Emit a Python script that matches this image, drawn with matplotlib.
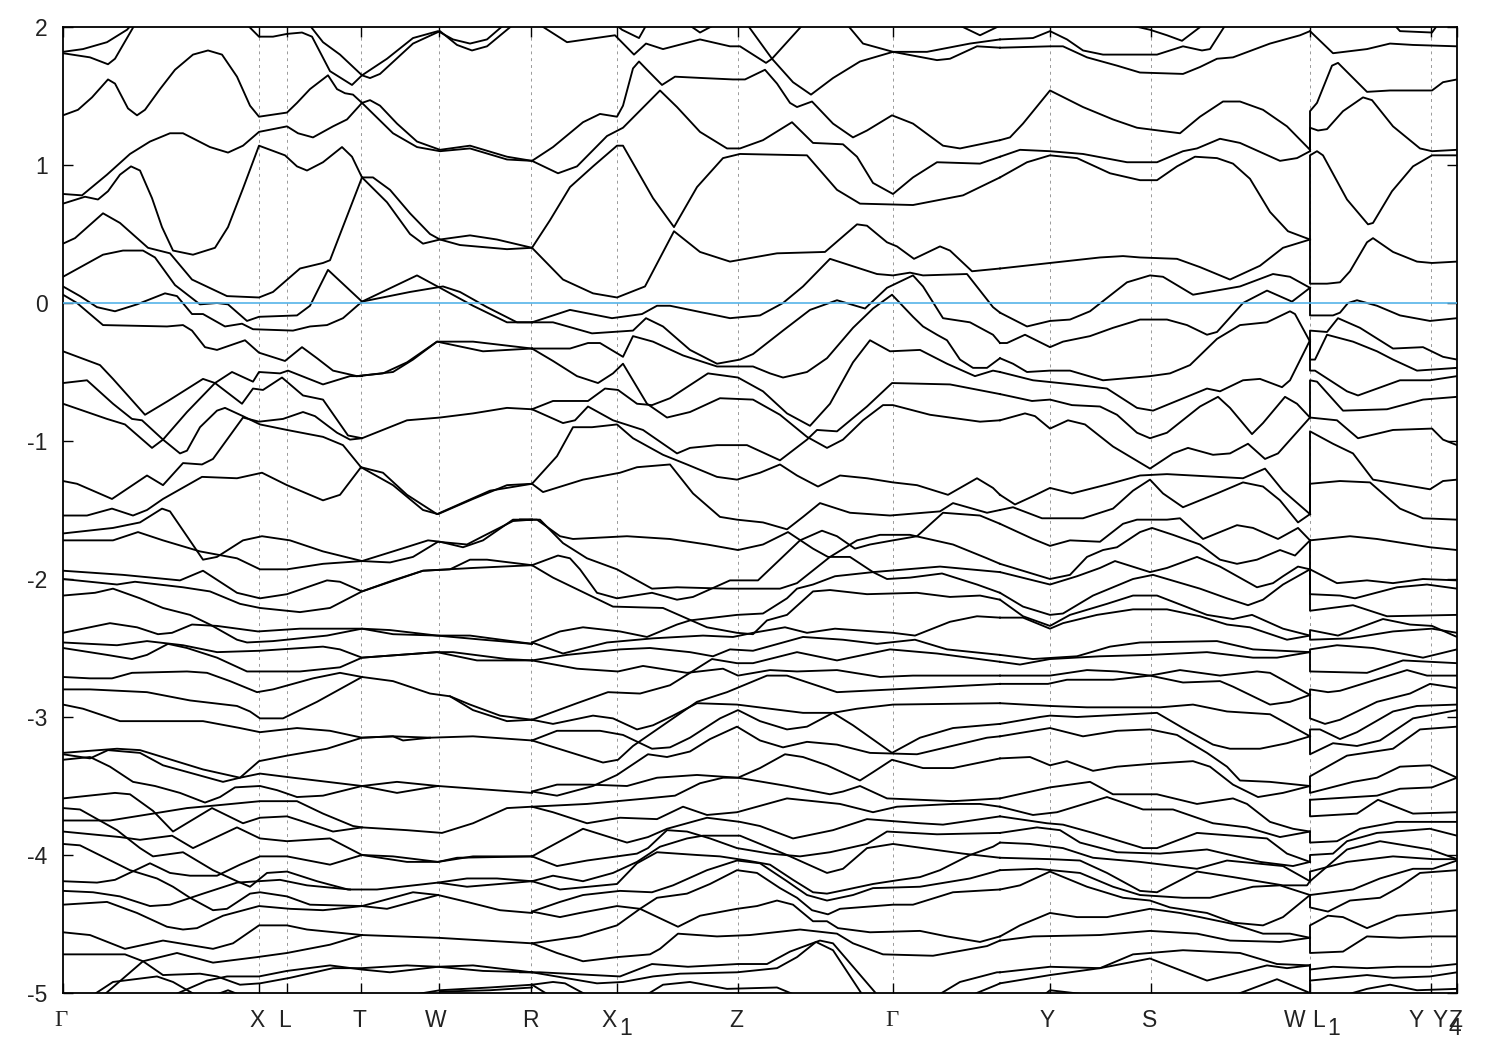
import numpy as np
import matplotlib
matplotlib.use('Agg')
import matplotlib.pyplot as plt

# flat lists: k, E, k, E, ... (k in path units, E in eV)
# Gamma -> R
a01 = [63,1.82, 83,1.84, 107,1.89, 127,1.98, 132,2.02]
a02 = [63,1.81, 90,1.78, 108,1.73, 115,1.77, 135,2.02]
a03 = [248,2.01, 259,1.93, 273,1.93, 287,1.95, 302,1.96, 312,1.93, 330,1.68, 352,1.58, 362,1.65, 370,1.63, 380,1.66, 413,1.88, 440,1.97, 457,1.87, 472,1.83, 487,1.86, 512,2.01]
a04 = [310,2.01, 323,1.89, 340,1.80, 362,1.65, 387,1.77, 413,1.92, 438,1.97, 453,1.91, 470,1.88, 487,1.91, 503,2.01]
a05 = [63,1.36, 78,1.40, 92,1.49, 108,1.62, 115,1.59, 128,1.41, 137,1.36, 145,1.40, 160,1.55, 175,1.69, 193,1.80, 208,1.83, 222,1.80, 237,1.64, 250,1.43, 259,1.35, 287,1.38, 297,1.45, 310,1.55, 328,1.65, 337,1.55, 345,1.52, 353,1.51, 362,1.45, 370,1.47, 380,1.43, 397,1.30, 417,1.17, 440,1.11, 470,1.14, 507,1.06, 532,1.03]
a06 = [362,1.45, 393,1.23, 417,1.13, 440,1.10, 470,1.12, 507,1.04, 532,1.03]
a07 = [63,.79, 82,.78, 107,.93, 130,1.08, 150,1.17, 170,1.23, 183,1.23, 210,1.13, 228,1.09, 243,1.14, 259,1.24, 287,1.28, 298,1.23, 313,1.20, 333,1.28, 347,1.33, 362,1.45]
a08 = [63,.72, 85,.77, 98,.75, 108,.81, 120,.93, 131,.99, 140,.96, 152,.76, 162,.55, 173,.38, 193,.35, 215,.40, 228,.55, 243,.83, 259,1.14, 285,1.07, 297,.99, 307,.96, 323,1.02, 342,1.13, 352,1.06, 362,.91, 373,.91, 390,.82, 410,.65, 430,.50, 440,.46, 470,.49, 497,.46, 532,.40]
a09 = [362,.91, 387,.73, 410,.50, 423,.43, 440,.46, 460,.42, 507,.39, 532,.40]
a10 = [63,.43, 75,.47, 103,.65, 120,.58, 148,.40, 170,.36, 192,.17, 227,.05, 259,.04, 273,.08, 300,.25, 323,.29, 330,.31, 362,.91]
a11 = [63,.19, 103,.35, 123,.38, 143,.38, 155,.33, 175,.13, 200,-.01, 217,0, 228,-.01, 247,-.13, 259,-.10, 297,-.09, 310,-.02, 328,.24, 362,.01, 417,.20, 440,.11, 473,-.02, 507,-.14, 532,-.14]
a12 = [63,.12, 80,.05, 97,-.03, 115,-.06, 137,-.01, 165,.07, 177,.05, 192,-.08, 203,-.08, 225,-.17, 242,-.15, 253,-.19, 293,-.20, 310,-.17, 327,-.16, 343,-.11, 362,.01, 410,.08, 443,.12, 460,.08, 487,-.03, 517,-.14, 532,-.14]
a13 = [63,.06, 77,0, 103,-.16, 167,-.17, 183,-.16, 192,-.20, 205,-.32, 217,-.34, 245,-.27, 259,-.36, 285,-.42, 302,-.32, 317,-.40, 333,-.49, 357,-.53, 383,-.51, 407,-.43, 437,-.28, 483,-.35, 532,-.33]
a14 = [357,-.53, 393,-.50, 413,-.41, 437,-.28, 473,-.28, 532,-.33]
a15 = [63,-.35, 100,-.45, 113,-.55, 145,-.81, 168,-.71, 203,-.55, 215,-.58, 242,-.73, 253,-.62, 263,-.63, 282,-.54, 303,-.67, 323,-.70, 348,-.96, 362,-.98, 407,-.85, 440,-.83, 473,-.80, 507,-.76, 532,-.77]
a16 = [63,-.58, 87,-.56, 113,-.73, 132,-.84, 142,-.85, 163,-.99, 180,-1.09, 187,-1.07, 200,-.90, 217,-.78, 225,-.76, 243,-.82, 260,-.88, 287,-.92, 323,-.97, 343,-1.03, 361,-1.19]
a17 = [63,-.73, 107,-.84, 125,-.88, 152,-1.05, 163,-.99, 187,-.79, 215,-.58, 232,-.50, 253,-.57, 259,-.50, 280,-.51, 288,-.49, 323,-.59, 350,-.53, 362,-.53]
a18 = [63,-1.29, 77,-1.31, 112,-1.42, 147,-1.25, 163,-1.32, 183,-1.16, 202,-1.17, 213,-1.13, 243,-.83, 259,-.86, 283,-.84, 303,-.79, 315,-.82, 337,-.94, 350,-.99, 362,-.98]
a19 = [63,-1.54, 87,-1.54, 112,-1.49, 133,-1.54, 147,-1.50, 163,-1.42, 202,-1.26, 237,-1.27, 262,-1.23, 287,-1.32, 323,-1.43, 340,-1.39, 361,-1.19, 393,-1.32, 423,-1.50, 438,-1.53, 473,-1.42, 507,-1.32, 532,-1.31]
a20 = [361,-1.19, 383,-1.23, 407,-1.39, 437,-1.53, 490,-1.36, 532,-1.31]
a21 = [63,-1.67, 113,-1.63, 140,-1.59, 162,-1.49, 170,-1.51, 187,-1.69, 203,-1.86, 217,-1.84, 243,-1.72, 262,-1.69, 290,-1.72, 323,-1.80, 362,-1.87, 393,-1.80, 428,-1.72, 440,-1.73, 463,-1.77, 483,-1.72, 513,-1.57, 532,-1.57]
a22 = [63,-1.72, 113,-1.72, 138,-1.66, 163,-1.72, 200,-1.80, 237,-1.85, 260,-1.93, 287,-1.93, 323,-1.89, 362,-1.87, 390,-1.88, 413,-1.84, 438,-1.73, 467,-1.75, 483,-1.69, 513,-1.58, 532,-1.57]
a23 = [63,-1.94, 123,-1.97, 180,-2.01, 203,-1.94, 237,-2.10, 260,-2.14, 287,-2.11, 327,-2.01, 340,-2.02, 362,-2.09, 393,-2.01, 423,-1.94, 450,-1.93, 470,-1.86, 487,-1.86, 532,-1.90]
a24 = [63,-2.0, 117,-2.04, 135,-2.02, 183,-2.06, 210,-2.09, 240,-2.18, 260,-2.21, 300,-2.24, 330,-2.21, 362,-2.09, 423,-1.94, 473,-1.92, 532,-1.90]
a25 = [63,-2.12, 95,-2.10, 113,-2.07, 140,-2.14, 163,-2.21, 190,-2.26, 210,-2.33, 237,-2.44, 247,-2.46, 273,-2.45, 327,-2.41, 362,-2.36, 390,-2.37, 437,-2.41, 470,-2.41, 532,-2.47]
a26 = [63,-2.39, 110,-2.32, 137,-2.35, 158,-2.40, 172,-2.39, 192,-2.33, 217,-2.34, 258,-2.38, 300,-2.36, 362,-2.36, 393,-2.40, 437,-2.41, 483,-2.44, 532,-2.47]
a27 = [63,-2.46, 117,-2.48, 147,-2.45, 183,-2.48, 217,-2.53, 260,-2.52, 323,-2.49, 340,-2.51, 362,-2.57, 437,-2.53, 477,-2.59, 532,-2.59]
a28 = [63,-2.50, 107,-2.55, 132,-2.58, 147,-2.55, 168,-2.47, 187,-2.50, 217,-2.57, 247,-2.67, 300,-2.67, 340,-2.64, 362,-2.57, 437,-2.53, 453,-2.53, 507,-2.58, 532,-2.59]
a29 = [63,-2.71, 90,-2.72, 112,-2.72, 132,-2.68, 187,-2.67, 207,-2.68, 230,-2.74, 257,-2.82, 273,-2.80, 313,-2.72, 340,-2.68, 362,-2.71, 393,-2.74, 430,-2.83, 450,-2.85, 473,-2.95, 507,-3.03, 532,-3.02]
a30 = [450,-2.85, 470,-2.91, 500,-2.99, 532,-3.02]
a31 = [63,-2.80, 90,-2.80, 147,-2.82, 190,-2.88, 237,-2.92, 250,-2.96, 260,-3.01, 283,-3.01, 317,-2.89, 362,-2.71]
a32 = [63,-2.91, 83,-2.94, 120,-3.03, 140,-3.03, 203,-3.03, 240,-3.08, 260,-3.11, 297,-3.08, 330,-3.10, 362,-3.15, 393,-3.14, 403,-3.17, 430,-3.15, 473,-3.14, 532,-3.17]
a33 = [63,-3.26, 117,-3.23, 140,-3.24, 203,-3.38, 240,-3.44, 259,-3.32, 287,-3.28, 327,-3.23, 362,-3.15, 393,-3.14, 430,-3.15]
a34 = [63,-3.27, 90,-3.30, 108,-3.24, 140,-3.26, 163,-3.35, 203,-3.43, 223,-3.47, 240,-3.44, 260,-3.41, 293,-3.44, 362,-3.50, 397,-3.47, 438,-3.50, 532,-3.55]
a35 = [63,-3.31, 90,-3.29, 110,-3.36, 133,-3.47, 155,-3.50, 180,-3.55, 205,-3.62, 220,-3.58, 235,-3.51, 260,-3.50, 277,-3.53, 297,-3.58, 323,-3.57, 362,-3.50, 397,-3.55, 438,-3.50]
a36 = [63,-3.59, 115,-3.55, 130,-3.56, 153,-3.68, 173,-3.83, 212,-3.66, 243,-3.77, 260,-3.73, 287,-3.72, 300,-3.75, 333,-3.83, 362,-3.80, 407,-3.82, 442,-3.84, 473,-3.77, 507,-3.66, 532,-3.65]
a37 = [63,-3.66, 80,-3.67, 117,-3.82, 140,-3.95, 153,-4.01, 183,-3.98, 213,-4.11, 237,-4.19, 250,-4.23, 267,-4.13, 287,-4.12, 317,-4.19, 348,-4.25, 377,-4.25, 438,-4.20, 467,-4.23, 532,-4.19]
a38 = [438,-4.20, 467,-4.17, 497,-4.17, 532,-4.19]
a39 = [63,-3.75, 110,-3.75, 153,-3.70, 187,-3.66, 217,-3.64, 260,-3.61, 297,-3.61, 323,-3.70, 353,-3.79, 362,-3.80]
a40 = [63,-3.83, 120,-3.87, 140,-3.89, 172,-3.86, 193,-3.95, 237,-3.80, 260,-3.88, 287,-3.90, 330,-3.88, 362,-4.0, 393,-4.01, 438,-4.05, 473,-4.01, 532,-4.01]
a41 = [362,-4.0, 407,-4.05, 438,-4.05, 457,-4.02, 532,-4.01]
a42 = [63,-3.92, 80,-3.93, 130,-4.11, 157,-4.17, 173,-4.23, 190,-4.31, 213,-4.40, 227,-4.39, 250,-4.28, 260,-4.27, 287,-4.30, 310,-4.36, 362,-4.37, 413,-4.27, 438,-4.29, 467,-4.34, 500,-4.40, 532,-4.42]
a43 = [362,-4.37, 387,-4.39, 438,-4.29]
a44 = [63,-4.19, 97,-4.20, 115,-4.18, 150,-4.06, 170,-4.13, 190,-4.15, 217,-4.15, 240,-4.07, 260,-4.01, 287,-4.01, 330,-4.07, 362,-4.0]
a45 = [63,-4.26, 93,-4.27, 120,-4.30, 150,-4.37, 170,-4.36, 203,-4.28, 237,-4.20, 280,-4.18, 307,-4.22, 350,-4.25]
a46 = [63,-4.36, 107,-4.34, 137,-4.42, 167,-4.52, 183,-4.54, 197,-4.53, 223,-4.44, 259,-4.37, 290,-4.39, 323,-4.40, 362,-4.37]
a47 = [63,-4.56, 90,-4.58, 125,-4.68, 163,-4.62, 213,-4.68, 233,-4.64, 259,-4.51, 287,-4.51, 307,-4.54, 362,-4.58, 438,-4.60, 532,-4.64]
a48 = [63,-4.72, 125,-4.72, 143,-4.77, 163,-4.87, 200,-4.86, 217,-4.88, 240,-4.94, 260,-4.93, 290,-4.89, 333,-4.82, 362,-4.82, 407,-4.80, 438,-4.81, 473,-4.80, 532,-4.85]
a49 = [103,-5.02, 143,-4.77, 177,-4.71, 213,-4.78, 257,-4.74, 287,-4.71, 330,-4.65, 362,-4.58]
a50 = [92,-5.02, 113,-4.92, 157,-4.88, 173,-4.92, 197,-5.02]
a51 = [172,-5.02, 207,-4.91, 227,-4.88, 259,-4.88, 287,-4.84, 330,-4.80, 362,-4.83, 390,-4.85, 438,-4.81, 483,-4.84, 532,-4.85]
a52 = [213,-5.02, 228,-4.98, 242,-5.02]
a53 = [407,-5.02, 440,-4.98, 490,-4.96, 532,-4.94]
a54 = [440,-4.99, 490,-4.98, 532,-4.96]

# R -> Gamma -> Y side
b01 = [541,2.01, 567,1.89, 615,1.94, 634,1.80, 646,1.88, 663,1.84, 700,1.91, 730,1.86, 740,1.86, 766,1.74, 772,1.77, 802,2.01]
b02 = [617,2.01, 622,1.98, 639,1.92, 646,2.01]
b03 = [690,2.01, 700,1.96, 713,2.01]
b04 = [748,2.01, 772,1.77, 793,1.60, 811,1.51, 833,1.63, 860,1.75, 893,1.82, 937,1.76, 950,1.77, 977,1.86, 1000,1.85]
b05 = [848,2.01, 863,1.88, 893,1.82, 927,1.82, 970,1.88, 1000,1.91]
b06 = [960,2.01, 980,1.94, 1000,2.01]
b07 = [532,1.03, 553,1.13, 583,1.31, 600,1.37, 617,1.35, 623,1.43, 633,1.70, 639,1.75, 647,1.69, 662,1.58, 675,1.64, 703,1.63, 733,1.62, 745,1.62, 765,1.69, 777,1.59, 790,1.45, 797,1.42, 812,1.46, 833,1.30, 853,1.20, 867,1.25, 892,1.36, 913,1.30, 943,1.14, 960,1.12, 1000,1.18]
b08 = [532,1.03, 558,.94, 577,.99, 607,1.21, 623,1.27, 660,1.54, 677,1.42, 700,1.24, 727,1.12, 740,1.12, 763,1.18, 792,1.31, 813,1.16, 843,1.15, 857,1.06, 873,.87, 893,.79, 913,.91, 937,1.02, 980,1.01, 1000,1.06]
b09 = [532,.40, 550,.60, 570,.84, 593,.99, 617,1.14, 623,1.14, 653,.76, 674,.55, 697,.84, 723,1.05, 740,1.08, 807,1.07, 837,.82, 860,.72, 913,.71, 963,.78, 1000,.91]
b10 = [532,.40, 563,.17, 593,.07, 617,.04, 645,.12, 674,.52, 700,.37, 730,.30, 777,.36, 825,.37, 857,.57, 867,.56, 887,.44, 897,.41, 914,.32, 940,.41, 950,.38, 972,.23, 1000,.25]
b11 = [532,-.14, 570,-.05, 612,-.11, 642,-.08, 657,-.02, 670,-.02, 730,-.11, 760,-.09, 783,0, 803,.12, 830,.32, 877,.21, 893,.20, 910,.22, 923,.20, 967,.21, 993,-.03, 1000,-.07]
b12 = [532,-.14, 553,-.14, 592,-.22, 633,-.20, 646,-.11, 663,-.17, 690,-.34, 717,-.44, 740,-.41, 753,-.37, 783,-.20, 810,-.05, 837,.02, 865,-.04, 887,.11, 913,.20, 923,.12, 943,-.11, 970,-.14, 993,-.23, 1000,-.29]
b13 = [532,-.33, 570,-.33, 588,-.29, 600,-.29, 623,-.39, 633,-.24, 653,-.28, 683,-.38, 717,-.46, 753,-.46, 770,-.51, 783,-.54, 807,-.50, 827,-.40, 853,-.18, 873,-.04, 892,.06, 913,-.10, 923,-.17, 937,-.23, 947,-.27, 960,-.41, 973,-.47, 987,-.47, 1000,-.40]
b14 = [532,-.33, 553,-.42, 577,-.53, 598,-.58, 613,-.51, 623,-.44, 647,-.73, 667,-.83, 690,-.79, 720,-.69, 753,-.70, 780,-.81, 807,-.97, 827,-1.05, 843,-.99, 863,-.85, 883,-.74, 893,-.74, 930,-.81, 980,-.86, 1000,-.85]
b15 = [532,-.77, 553,-.71, 588,-.71, 605,-.62, 618,-.63, 637,-.73, 652,-.74, 670,-.69, 708,-.51, 738,-.54, 763,-.64, 787,-.80, 810,-.89, 830,-.73, 853,-.43, 870,-.27, 890,-.35, 920,-.34, 947,-.44, 975,-.53, 993,-.49, 1000,-.50]
b16 = [532,-.77, 563,-.87, 575,-.85, 588,-.75, 613,-.85, 643,-.92, 677,-1.09, 690,-1.05, 717,-1.03, 747,-1.03, 780,-1.14, 807,-.99, 817,-.92, 837,-.93, 867,-.75, 892,-.58, 950,-.59, 1000,-.66]
b17 = [532,-1.31, 543,-1.37, 583,-1.28, 620,-1.23, 637,-1.19, 670,-1.17, 693,-1.38, 720,-1.55, 737,-1.57, 763,-1.59, 787,-1.64, 803,-1.55, 820,-1.45, 850,-1.52, 890,-1.54, 940,-1.51, 953,-1.45, 987,-1.52, 1000,-1.50]
b18 = [532,-1.31, 557,-1.11, 573,-.90, 592,-.90, 617,-.88, 633,-.98, 663,-1.10, 687,-1.17, 717,-1.26, 737,-1.28, 760,-1.23, 780,-1.17, 797,-1.25, 818,-1.33, 840,-1.25, 867,-1.27, 893,-1.30, 917,-1.32, 948,-1.39, 977,-1.27, 993,-1.34, 1000,-1.39]
b19 = [520,-1.57, 537,-1.57, 560,-1.69, 573,-1.71, 627,-1.69, 670,-1.71, 707,-1.75, 738,-1.79, 763,-1.75, 788,-1.66, 813,-1.78, 828,-1.84, 850,-1.84, 873,-1.95, 887,-2.0, 910,-1.99, 942,-1.96, 977,-2.04, 1000,-2.10]
b20 = [520,-1.57, 540,-1.57, 563,-1.74, 587,-1.85, 617,-1.93, 652,-2.07, 677,-2.06, 727,-2.07, 780,-2.07, 797,-2.03, 830,-1.84, 857,-1.72, 880,-1.68, 910,-1.68, 953,-1.75, 987,-1.85, 1000,-1.89]
b21 = [532,-1.90, 558,-1.83, 570,-1.85, 580,-1.93, 597,-2.10, 617,-2.14, 652,-2.10, 677,-2.15, 693,-2.13, 730,-2.01, 758,-2.01, 787,-1.81, 800,-1.72, 822,-1.65, 837,-1.69, 855,-1.78, 870,-1.75, 893,-1.72, 917,-1.69, 943,-1.52, 980,-1.54, 1000,-1.60]
b22 = [532,-1.90, 553,-1.99, 593,-2.13, 613,-2.20, 663,-2.21, 707,-2.35, 737,-2.39, 753,-2.40, 767,-2.30, 787,-2.26, 813,-2.09, 830,-2.08, 867,-2.11, 917,-2.10, 950,-2.13, 980,-2.12, 1000,-2.15]
b23 = [532,-2.46, 560,-2.38, 583,-2.35, 620,-2.38, 647,-2.42, 677,-2.33, 690,-2.30, 737,-2.26, 763,-2.25, 787,-2.14, 797,-2.07, 813,-2.04, 835,-1.98, 873,-1.95, 940,-1.91, 1000,-1.95]
b24 = [532,-2.46, 563,-2.54, 607,-2.46, 653,-2.43, 703,-2.41, 733,-2.42, 753,-2.39, 785,-2.35, 807,-2.39, 835,-2.36, 893,-2.39, 915,-2.41, 950,-2.31, 977,-2.27, 1000,-2.28]
b25 = [532,-2.59, 567,-2.55, 620,-2.51, 650,-2.50, 690,-2.53, 713,-2.56, 730,-2.51, 753,-2.52, 803,-2.42, 843,-2.44, 877,-2.47, 915,-2.44, 947,-2.51, 1000,-2.55]
b26 = [532,-2.59, 577,-2.65, 618,-2.67, 643,-2.63, 687,-2.68, 723,-2.65, 738,-2.70, 770,-2.66, 797,-2.67, 837,-2.66, 880,-2.71, 913,-2.70, 1000,-2.70]
b27 = [532,-3.02, 577,-2.90, 608,-2.82, 640,-2.83, 670,-2.77, 690,-2.68, 712,-2.58, 737,-2.61, 753,-2.61, 797,-2.53, 837,-2.59, 890,-2.51, 937,-2.54, 1000,-2.60]
b28 = [532,-3.02, 553,-3.05, 593,-2.99, 613,-3.01, 637,-3.09, 653,-3.06, 673,-2.99, 697,-2.90, 737,-2.91, 803,-2.97, 833,-2.97, 857,-2.94, 893,-2.91, 1000,-2.90]
b29 = [532,-3.17, 557,-3.10, 600,-3.10, 623,-3.13, 652,-3.23, 670,-3.22, 690,-3.15, 720,-3.01, 738,-2.95, 760,-3.03, 787,-3.09, 807,-3.07, 833,-2.97, 853,-3.06, 892,-3.26, 920,-3.15, 953,-3.08, 1000,-3.05]
b30 = [532,-3.17, 603,-3.33, 618,-3.31, 633,-3.21, 663,-3.06, 677,-2.99, 697,-2.89, 727,-2.82, 767,-2.70, 787,-2.70, 837,-2.82, 893,-2.80, 1000,-2.76]
b31 = [532,-3.54, 557,-3.49, 590,-3.49, 627,-3.50, 657,-3.44, 697,-3.42, 738,-3.44, 787,-3.50, 830,-3.56, 843,-3.54, 860,-3.50, 887,-3.59, 953,-3.61, 1000,-3.59]
b32 = [532,-3.54, 557,-3.57, 593,-3.50, 617,-3.42, 648,-3.27, 667,-3.29, 690,-3.25, 710,-3.16, 737,-3.07, 760,-3.17, 783,-3.22, 807,-3.18, 837,-3.20, 870,-3.26, 917,-3.27, 987,-3.15, 1000,-3.14]
b33 = [532,-3.65, 587,-3.63, 647,-3.59, 675,-3.57, 700,-3.48, 723,-3.44, 738,-3.44, 760,-3.37, 785,-3.27, 803,-3.29, 827,-3.35, 860,-3.46, 873,-3.40, 892,-3.31, 923,-3.37, 953,-3.37, 1000,-3.30]
b34 = [532,-3.65, 553,-3.69, 587,-3.77, 620,-3.73, 657,-3.74, 683,-3.65, 707,-3.71, 737,-3.69, 787,-3.59, 840,-3.63, 873,-3.69, 897,-3.65, 953,-3.63, 980,-3.63, 1000,-3.65]
b35 = [532,-4.01, 583,-3.81, 627,-3.91, 648,-3.87, 667,-3.81, 707,-3.73, 740,-3.76, 760,-3.79, 793,-3.88, 833,-3.82, 867,-3.74, 920,-3.77, 943,-3.78, 1000,-3.72]
b36 = [532,-4.01, 557,-4.08, 587,-4.04, 637,-3.99, 648,-3.95, 667,-3.82, 687,-3.83, 710,-3.88, 737,-3.95, 770,-3.99, 800,-4.01, 830,-3.98, 867,-3.92, 887,-3.83, 937,-3.85, 1000,-3.84]
b37 = [532,-4.19, 553,-4.15, 583,-4.19, 613,-4.13, 637,-4.05, 660,-3.94, 687,-3.88, 703,-3.86, 740,-3.86, 787,-4.0, 827,-4.13, 843,-4.10, 867,-3.95, 893,-3.92, 963,-3.99, 1000,-4.02]
b38 = [532,-4.19, 560,-4.25, 617,-4.21, 637,-4.06, 657,-3.98, 697,-4.0, 720,-4.01, 747,-4.04, 770,-4.07, 793,-4.18, 813,-4.27, 827,-4.28, 847,-4.25, 873,-4.21, 900,-4.18, 920,-4.16, 940,-4.11, 970,-4.0, 993,-3.94, 1000,-3.91]
b39 = [532,-4.41, 560,-4.34, 583,-4.29, 620,-4.26, 652,-4.27, 673,-4.22, 707,-4.11, 737,-4.04, 760,-4.06, 787,-4.19, 807,-4.29, 827,-4.33, 853,-4.29, 873,-4.24, 920,-4.23, 970,-4.17, 1000,-4.11]
b40 = [532,-4.41, 560,-4.45, 580,-4.42, 617,-4.37, 640,-4.39, 678,-4.52, 700,-4.44, 737,-4.39, 757,-4.37, 777,-4.33, 793,-4.36, 813,-4.48, 827,-4.48, 838,-4.53, 870,-4.56, 920,-4.55, 947,-4.59, 980,-4.63, 1000,-4.59]
b41 = [532,-4.64, 557,-4.71, 583,-4.77, 617,-4.74, 650,-4.72, 660,-4.68, 678,-4.57, 717,-4.59, 750,-4.58, 800,-4.54, 837,-4.57, 853,-4.64, 883,-4.72, 933,-4.73, 987,-4.66, 1000,-4.62]
b42 = [532,-4.64, 580,-4.59, 617,-4.51, 640,-4.39, 657,-4.31, 687,-4.28, 710,-4.21, 737,-4.11, 757,-4.13, 780,-4.24, 797,-4.31, 812,-4.40, 828,-4.43, 840,-4.39, 893,-4.36, 913,-4.36, 953,-4.27, 1000,-4.25]
b43 = [520,-4.85, 540,-4.85, 620,-4.88, 652,-4.79, 688,-4.81, 738,-4.79, 767,-4.79, 790,-4.70, 816,-4.63, 833,-4.69, 863,-5.02]
b44 = [532,-4.85, 597,-4.93, 623,-4.92, 653,-4.88, 680,-4.86, 737,-4.85, 777,-4.82, 797,-4.74, 816,-4.63, 820,-4.62, 833,-4.64, 878,-5.02]
b45 = [532,-4.94, 553,-4.92, 565,-4.93, 588,-5.02]
b46 = [532,-4.94, 550,-5.02]
b47 = [645,-5.02, 663,-4.94, 690,-4.92, 727,-4.97, 777,-4.96, 797,-5.02]
b48 = [937,-5.02, 960,-4.92, 997,-4.85, 1000,-4.85]
b49 = [970,-5.02, 997,-4.94, 1000,-4.93]

# Y -> S -> W
c01 = [1000,1.91, 1033,1.92, 1050,1.97, 1067,1.91, 1083,1.83, 1103,1.80, 1157,1.80, 1170,1.83, 1183,1.86, 1202,1.83, 1210,1.84, 1225,2.01]
c02 = [1000,1.85, 1050,1.86, 1063,1.86, 1087,1.78, 1117,1.72, 1140,1.67, 1183,1.66, 1200,1.71, 1217,1.77, 1233,1.78, 1270,1.88, 1300,1.94, 1310,1.97]
c03 = [1132,2.01, 1150,1.98, 1167,1.94, 1182,1.90, 1202,2.01]
c04 = [1000,1.18, 1010,1.20, 1023,1.30, 1050,1.54, 1083,1.42, 1113,1.33, 1137,1.27, 1180,1.23, 1200,1.35, 1223,1.46, 1240,1.46, 1263,1.40, 1287,1.28, 1310,1.11]
c05 = [1000,1.06, 1020,1.11, 1050,1.10, 1083,1.08, 1127,1.02, 1157,1.02, 1183,1.10, 1197,1.12, 1220,1.19, 1240,1.16, 1280,1.03, 1297,1.05, 1310,1.10]
c06 = [1000,.91, 1027,1.02, 1050,1.07, 1077,1.05, 1110,.94, 1140,.89, 1157,.89, 1177,.99, 1195,1.06, 1217,1.05, 1233,1.01, 1250,.90, 1270,.66, 1288,.52, 1310,.46]
c07 = [1000,.25, 1050,.29, 1100,.33, 1123,.34, 1140,.33, 1177,.32, 1200,.26, 1230,.17, 1260,.27, 1283,.40, 1310,.46]
c08 = [1000,-.07, 1027,-.17, 1050,-.13, 1070,-.12, 1090,-.06, 1127,.15, 1150,.20, 1163,.19, 1193,.06, 1240,.12, 1273,.21, 1290,.19, 1310,.11]
c09 = [1000,-.29, 1007,-.29, 1025,-.23, 1050,-.32, 1063,-.28, 1090,-.24, 1113,-.18, 1140,-.12, 1167,-.12, 1187,-.16, 1207,-.23, 1217,-.21, 1243,0, 1267,.09, 1292,.01, 1310,.11]
c10 = [1000,-.40, 1013,-.44, 1027,-.50, 1050,-.49, 1070,-.49, 1103,-.56, 1150,-.53, 1170,-.51, 1190,-.45, 1217,-.26, 1240,-.16, 1267,-.14, 1290,-.06, 1295,-.08, 1310,-.28]
c11 = [1000,-.50, 1033,-.56, 1073,-.59, 1107,-.62, 1137,-.76, 1153,-.78, 1180,-.70, 1207,-.62, 1220,-.64, 1243,-.56, 1260,-.55, 1282,-.61, 1290,-.56, 1310,-.27]
c12 = [1000,-.66, 1032,-.71, 1050,-.70, 1072,-.74, 1100,-.75, 1117,-.81, 1137,-.94, 1150,-.98, 1167,-.94, 1200,-.75, 1218,-.68, 1230,-.76, 1252,-.95, 1263,-.87, 1285,-.68, 1297,-.73, 1310,-.83]
c13 = [1000,-.85, 1025,-.80, 1035,-.82, 1050,-.91, 1068,-.85, 1085,-.88, 1113,-1.04, 1150,-1.20, 1173,-1.09, 1188,-1.05, 1213,-1.10, 1230,-1.09, 1248,-1.02, 1265,-1.13, 1278,-1.09, 1310,-.83]
c14 = [1000,-1.39, 1015,-1.46, 1033,-1.40, 1050,-1.34, 1072,-1.38, 1110,-1.31, 1140,-1.25, 1167,-1.24, 1243,-1.27, 1265,-1.20, 1283,-1.36, 1310,-1.53]
c15 = [1000,-1.50, 1013,-1.48, 1042,-1.56, 1083,-1.56, 1113,-1.49, 1133,-1.36, 1150,-1.28, 1163,-1.38, 1183,-1.48, 1217,-1.38, 1243,-1.30, 1263,-1.33, 1280,-1.43, 1298,-1.59, 1310,-1.53]
c16 = [1000,-1.60, 1033,-1.71, 1050,-1.76, 1070,-1.72, 1100,-1.73, 1123,-1.60, 1137,-1.57, 1167,-1.57, 1180,-1.56, 1203,-1.71, 1237,-1.61, 1253,-1.63, 1278,-1.71, 1298,-1.63, 1310,-1.72]
c17 = [1000,-1.89, 1050,-2.0, 1070,-1.97, 1087,-1.84, 1103,-1.79, 1117,-1.77, 1140,-1.66, 1152,-1.63, 1173,-1.68, 1200,-1.75, 1220,-1.86, 1237,-1.89, 1257,-1.86, 1280,-1.79, 1295,-1.83, 1310,-1.72]
c18 = [1000,-1.95, 1050,-2.04, 1077,-1.98, 1100,-1.92, 1115,-1.87, 1150,-1.95, 1167,-1.92, 1197,-1.84, 1220,-1.91, 1257,-2.06, 1273,-2.03, 1283,-1.98, 1298,-1.91, 1310,-1.93]
c19 = [1000,-2.10, 1023,-2.20, 1050,-2.26, 1063,-2.25, 1093,-2.12, 1133,-2.0, 1153,-1.97, 1200,-2.07, 1227,-2.14, 1248,-2.19, 1263,-2.15, 1283,-2.04, 1310,-1.93]
c20 = [1000,-2.15, 1023,-2.27, 1050,-2.34, 1070,-2.26, 1107,-2.18, 1133,-2.12, 1157,-2.12, 1207,-2.26, 1233,-2.29, 1252,-2.26, 1283,-2.36, 1310,-2.41]
c21 = [1000,-2.28, 1023,-2.28, 1050,-2.36, 1063,-2.32, 1097,-2.26, 1133,-2.22, 1167,-2.22, 1200,-2.27, 1227,-2.33, 1250,-2.35, 1287,-2.44, 1310,-2.41]
c22 = [1000,-2.55, 1033,-2.58, 1077,-2.56, 1110,-2.49, 1140,-2.46, 1217,-2.45, 1253,-2.51, 1310,-2.53]
c23 = [1000,-2.60, 1020,-2.62, 1050,-2.58, 1100,-2.56, 1150,-2.55, 1207,-2.53, 1253,-2.57, 1277,-2.57, 1310,-2.53]
c24 = [1000,-2.70, 1050,-2.70, 1087,-2.66, 1117,-2.67, 1150,-2.70, 1180,-2.66, 1220,-2.70, 1257,-2.67, 1270,-2.68, 1310,-2.84]
c25 = [1000,-2.76, 1048,-2.76, 1067,-2.73, 1113,-2.73, 1150,-2.70, 1183,-2.75, 1220,-2.74, 1233,-2.78, 1270,-2.91, 1290,-2.89, 1310,-2.84]
c26 = [1000,-2.90, 1050,-2.92, 1087,-2.93, 1160,-2.93, 1193,-2.91, 1227,-2.96, 1270,-2.98, 1310,-3.14]
c27 = [1000,-3.05, 1040,-3.0, 1050,-2.99, 1077,-3.0, 1157,-2.97, 1183,-3.08, 1213,-3.20, 1230,-3.23, 1260,-3.23, 1287,-3.19, 1310,-3.14]
c28 = [1000,-3.14, 1050,-3.08, 1083,-3.14, 1117,-3.10, 1150,-3.09, 1177,-3.13, 1207,-3.26, 1227,-3.36, 1240,-3.46, 1270,-3.47, 1310,-3.50]
c29 = [1000,-3.30, 1030,-3.29, 1050,-3.35, 1067,-3.32, 1093,-3.39, 1117,-3.36, 1150,-3.34, 1193,-3.32, 1210,-3.36, 1233,-3.49, 1258,-3.58, 1283,-3.55, 1310,-3.50]
c30 = [1000,-3.59, 1050,-3.51, 1090,-3.47, 1113,-3.56, 1157,-3.56, 1197,-3.63, 1233,-3.59, 1247,-3.63, 1270,-3.76, 1293,-3.81, 1310,-3.83]
c31 = [1000,-3.65, 1033,-3.71, 1057,-3.69, 1107,-3.58, 1143,-3.67, 1173,-3.67, 1213,-3.77, 1247,-3.80, 1280,-3.87, 1310,-3.83]
c32 = [1000,-3.72, 1047,-3.77, 1063,-3.78, 1093,-3.84, 1143,-3.95, 1157,-3.95, 1197,-3.84, 1233,-3.86, 1267,-3.88, 1287,-3.99, 1310,-4.05]
c33 = [1000,-3.84, 1037,-3.80, 1060,-3.82, 1080,-3.91, 1117,-3.98, 1160,-3.99, 1207,-3.96, 1260,-4.05, 1293,-4.08, 1310,-4.05]
c34 = [1000,-3.91, 1030,-3.92, 1063,-3.95, 1093,-4.02, 1140,-4.05, 1197,-4.10, 1227,-4.04, 1283,-4.08, 1310,-4.19]
c35 = [1000,-4.02, 1050,-4.03, 1080,-4.04, 1107,-4.13, 1140,-4.26, 1157,-4.27, 1197,-4.12, 1233,-4.16, 1283,-4.22, 1307,-4.22, 1310,-4.19]
c36 = [1000,-4.11, 1037,-4.10, 1080,-4.13, 1113,-4.23, 1140,-4.29, 1183,-4.31, 1210,-4.31, 1253,-4.23, 1280,-4.22, 1310,-4.29]
c37 = [1000,-4.25, 1020,-4.22, 1050,-4.12, 1087,-4.23, 1123,-4.31, 1150,-4.33, 1170,-4.38, 1207,-4.42, 1233,-4.49, 1263,-4.51, 1283,-4.45, 1310,-4.29]
c38 = [1000,-4.59, 1020,-4.51, 1050,-4.42, 1077,-4.45, 1107,-4.45, 1150,-4.39, 1180,-4.42, 1233,-4.50, 1263,-4.57, 1290,-4.57, 1310,-4.60]
c39 = [1000,-4.62, 1033,-4.59, 1100,-4.58, 1150,-4.55, 1197,-4.57, 1230,-4.62, 1280,-4.63, 1310,-4.60]
c40 = [1000,-4.85, 1050,-4.81, 1100,-4.82, 1133,-4.72, 1150,-4.71, 1183,-4.69, 1240,-4.71, 1277,-4.79, 1310,-4.80]
c41 = [1000,-4.93, 1050,-4.87, 1100,-4.82, 1150,-4.75, 1207,-4.91, 1267,-4.80, 1287,-4.82, 1310,-4.80]
c42 = [1043,-5.02, 1050,-4.98, 1097,-5.02]
c43 = [1233,-5.02, 1277,-4.90, 1310,-5.0]

# L1 -> Y -> Z, first pair is the W value at the jump
d01 = [1310,1.97, 1333,1.81, 1367,1.84, 1390,1.88, 1413,1.87, 1457,1.86]
d02 = [1395,2.01, 1400,1.97, 1432,1.96, 1437,2.01]
d03 = [1310,1.11, 1310,1.39, 1317,1.45, 1332,1.72, 1338,1.74, 1367,1.53, 1390,1.54, 1432,1.54, 1443,1.60, 1457,1.62]
d04 = [1310,1.10, 1310,1.27, 1318,1.25, 1327,1.26, 1343,1.39, 1363,1.49, 1372,1.47, 1393,1.28, 1420,1.12, 1432,1.10, 1457,1.11]
d05 = [1310,.46, 1310,1.07, 1317,1.10, 1323,1.07, 1347,.75, 1368,.57, 1373,.58, 1392,.81, 1413,.99, 1432,1.07, 1457,1.07]
d06 = [1310,.46, 1310,.14, 1327,.14, 1340,.15, 1350,.23, 1367,.44, 1373,.47, 1393,.37, 1417,.30, 1432,.29, 1457,.30]
d07 = [1310,.11, 1310,-.09, 1333,-.09, 1340,-.07, 1348,0, 1357,.02, 1377,-.02, 1400,-.09, 1430,-.13, 1457,-.11]
d08 = [1310,-.28, 1310,-.20, 1327,-.21, 1338,-.11, 1360,-.18, 1393,-.33, 1423,-.32, 1443,-.39, 1457,-.41]
d09 = [1310,-.28, 1310,-.41, 1315,-.41, 1327,-.23, 1353,-.28, 1377,-.35, 1393,-.41, 1417,-.49, 1457,-.47]
d10 = [1310,-.28, 1310,-.49, 1315,-.49, 1347,-.64, 1358,-.67, 1400,-.56, 1430,-.56, 1457,-.53]
d11 = [1310,-.83, 1310,-.56, 1317,-.57, 1343,-.78, 1387,-.77, 1423,-.70, 1457,-.68]
d12 = [1310,-.83, 1337,-.85, 1358,-.98, 1393,-.92, 1432,-.91, 1443,-.99, 1457,-1.03]
d13 = [1310,-1.53, 1310,-.93, 1333,-1.02, 1353,-1.09, 1373,-1.28, 1430,-1.35, 1443,-1.29, 1457,-1.28]
d14 = [1310,-1.53, 1310,-1.31, 1340,-1.29, 1370,-1.30, 1400,-1.49, 1423,-1.56, 1457,-1.57]
d15 = [1310,-1.72, 1350,-1.69, 1377,-1.71, 1430,-1.77, 1457,-1.79]
d16 = [1310,-1.72, 1310,-1.93, 1337,-2.03, 1367,-2.01, 1393,-2.03, 1423,-2.0, 1457,-2.01]
d17 = [1310,-1.93, 1310,-2.11, 1340,-2.12, 1355,-2.14, 1397,-2.06, 1427,-2.04, 1457,-2.07]
d18 = [1310,-1.93, 1310,-2.23, 1353,-2.19, 1387,-2.27, 1457,-2.26]
d19 = [1310,-2.41, 1310,-2.37, 1338,-2.41, 1383,-2.29, 1410,-2.33, 1432,-2.34, 1457,-2.42]
d20 = [1310,-2.41, 1310,-2.44, 1350,-2.43, 1393,-2.38, 1432,-2.36, 1457,-2.39]
d21 = [1310,-2.53, 1310,-2.51, 1337,-2.48, 1373,-2.50, 1423,-2.57, 1457,-2.51]
d22 = [1310,-2.53, 1310,-2.67, 1367,-2.68, 1403,-2.59, 1457,-2.61]
d23 = [1310,-2.84, 1310,-2.80, 1328,-2.82, 1340,-2.81, 1407,-2.66, 1427,-2.70, 1457,-2.70]
d24 = [1310,-2.84, 1310,-3.01, 1325,-3.05, 1340,-3.02, 1377,-2.89, 1410,-2.83, 1430,-2.76, 1457,-2.79]
d25 = [1310,-3.14, 1310,-3.09, 1320,-3.09, 1340,-3.16, 1357,-3.11, 1393,-2.96, 1417,-2.92, 1457,-2.91]
d26 = [1310,-3.14, 1310,-3.27, 1333,-3.19, 1357,-3.21, 1380,-3.17, 1413,-3.01, 1457,-2.95]
d27 = [1310,-3.50, 1310,-3.43, 1347,-3.28, 1393,-3.23, 1420,-3.09, 1457,-3.07]
d28 = [1310,-3.50, 1310,-3.55, 1353,-3.47, 1377,-3.44, 1400,-3.36, 1430,-3.35, 1457,-3.44]
d29 = [1310,-3.60, 1377,-3.57, 1400,-3.52, 1432,-3.51, 1457,-3.44]
d30 = [1310,-3.60, 1310,-3.72, 1357,-3.70, 1378,-3.60, 1413,-3.70, 1457,-3.69]
d31 = [1310,-3.83, 1310,-3.91, 1337,-3.90, 1360,-3.81, 1397,-3.76, 1457,-3.76]
d32 = [1310,-4.05, 1310,-4.0, 1333,-3.99, 1347,-3.90, 1377,-3.84, 1430,-3.81, 1457,-3.86]
d33 = [1310,-4.19, 1347,-3.96, 1380,-3.90, 1430,-3.96, 1457,-4.03]
d34 = [1310,-4.19, 1310,-4.12, 1347,-4.05, 1393,-4.01, 1433,-4.03, 1457,-4.03]
d35 = [1310,-4.29, 1353,-4.25, 1380,-4.17, 1413,-4.10, 1433,-4.10, 1457,-4.04]
d36 = [1310,-4.29, 1310,-4.38, 1328,-4.41, 1350,-4.33, 1380,-4.31, 1400,-4.23, 1420,-4.13, 1457,-4.11]
d37 = [1310,-4.60, 1310,-4.51, 1328,-4.44, 1343,-4.45, 1367,-4.53, 1397,-4.44, 1430,-4.42, 1457,-4.40]
d38 = [1310,-4.60, 1310,-4.71, 1343,-4.70, 1367,-4.59, 1400,-4.60, 1430,-4.59, 1457,-4.59]
d39 = [1310,-4.80, 1310,-4.83, 1333,-4.81, 1367,-4.82, 1397,-4.81, 1430,-4.81, 1457,-4.79]
d40 = [1310,-4.80, 1310,-4.91, 1367,-4.87, 1393,-4.89, 1430,-4.88, 1457,-4.85]
d41 = [1310,-4.91, 1310,-5.0]
d42 = [1343,-5.02, 1367,-4.97, 1390,-4.94, 1417,-4.98, 1457,-4.97]

bands = [a01,a02,a03,a04,a05,a06,a07,a08,a09,a10,a11,a12,a13,a14,a15,a16,a17,a18,a19,a20,
         a21,a22,a23,a24,a25,a26,a27,a28,a29,a30,a31,a32,a33,a34,a35,a36,a37,a38,a39,a40,
         a41,a42,a43,a44,a45,a46,a47,a48,a49,a50,a51,a52,a53,a54,
         b01,b02,b03,b04,b05,b06,b07,b08,b09,b10,b11,b12,b13,b14,b15,b16,b17,b18,b19,b20,
         b21,b22,b23,b24,b25,b26,b27,b28,b29,b30,b31,b32,b33,b34,b35,b36,b37,b38,b39,b40,
         b41,b42,b43,b44,b45,b46,b47,b48,b49,
         c01,c02,c03,c04,c05,c06,c07,c08,c09,c10,c11,c12,c13,c14,c15,c16,c17,c18,c19,c20,
         c21,c22,c23,c24,c25,c26,c27,c28,c29,c30,c31,c32,c33,c34,c35,c36,c37,c38,c39,c40,
         c41,c42,c43,
         d01,d02,d03,d04,d05,d06,d07,d08,d09,d10,d11,d12,d13,d14,d15,d16,d17,d18,d19,d20,
         d21,d22,d23,d24,d25,d26,d27,d28,d29,d30,d31,d32,d33,d34,d35,d36,d37,d38,d39,d40,
         d41,d42]

k_ticks = [63, 259, 287, 361, 439, 531, 617, 738, 893, 1050, 1151, 1310, 1431, 1457]
e_ticks = [-5, -4, -3, -2, -1, 0, 1, 2]
path_labels = ['X', 'L', 'T', 'W', 'R', 'X', 'Z', 'Y', 'S', 'W', 'L', 'Y', 'Y', 'Z']
path_label_k = [257, 285, 359, 436, 530, 609, 736, 1047, 1150, 1295, 1318, 1416, 1440, 1455]
gamma_label_k = [61, 892]
sub_labels = ['1', '1', '4']
sub_label_k = [626, 1334, 1455]

plt.rcParams['axes.unicode_minus'] = False

fig = plt.figure(figsize=(15, 10.5), dpi=100)
ax = fig.add_axes([63 / 1500, 57 / 1050, 1394 / 1500, 966 / 1050])

for k in k_ticks[1:-1]:
    ax.axvline(k, color='#999999', lw=0.7, ls=(0, (3, 4)), zorder=1)

for band in bands:
    pts = np.array(band).reshape(-1, 2)
    ax.plot(pts[:, 0], pts[:, 1], color='black', lw=1.35, zorder=2)

ax.axhline(0, color='#56b4e9', lw=1.2, zorder=3)

ax.set_xlim(63, 1457)
ax.set_ylim(-5, 2)
ax.set_xticks(k_ticks)
ax.set_xticklabels([])
ax.set_yticks(e_ticks)
ax.tick_params(axis='both', direction='in', length=7.5, width=1.0, top=True, right=True)
ax.tick_params(axis='y', labelsize=16.5, pad=11, labelcolor='#222222')
for label in ax.get_yticklabels():
    label.set_family('Liberation Sans')
for s in ax.spines.values():
    s.set_linewidth(1.3)

trans = ax.get_xaxis_transform()
for k, t in zip(path_label_k, path_labels):
    ax.text(k, -0.028, t, transform=trans, ha='center', va='center', fontsize=16.5,
            family='Liberation Sans', color='#222222')
for k in gamma_label_k:
    ax.text(k, -0.028, '\u0393', transform=trans, ha='center', va='center', fontsize=16.5,
            family='Liberation Serif', color='#222222')
for k, t in zip(sub_label_k, sub_labels):
    ax.text(k, -0.037, t, transform=trans, ha='center', va='center', fontsize=16.5,
            family='Liberation Sans', color='#222222')

fig.savefig('out.png', dpi=100)
